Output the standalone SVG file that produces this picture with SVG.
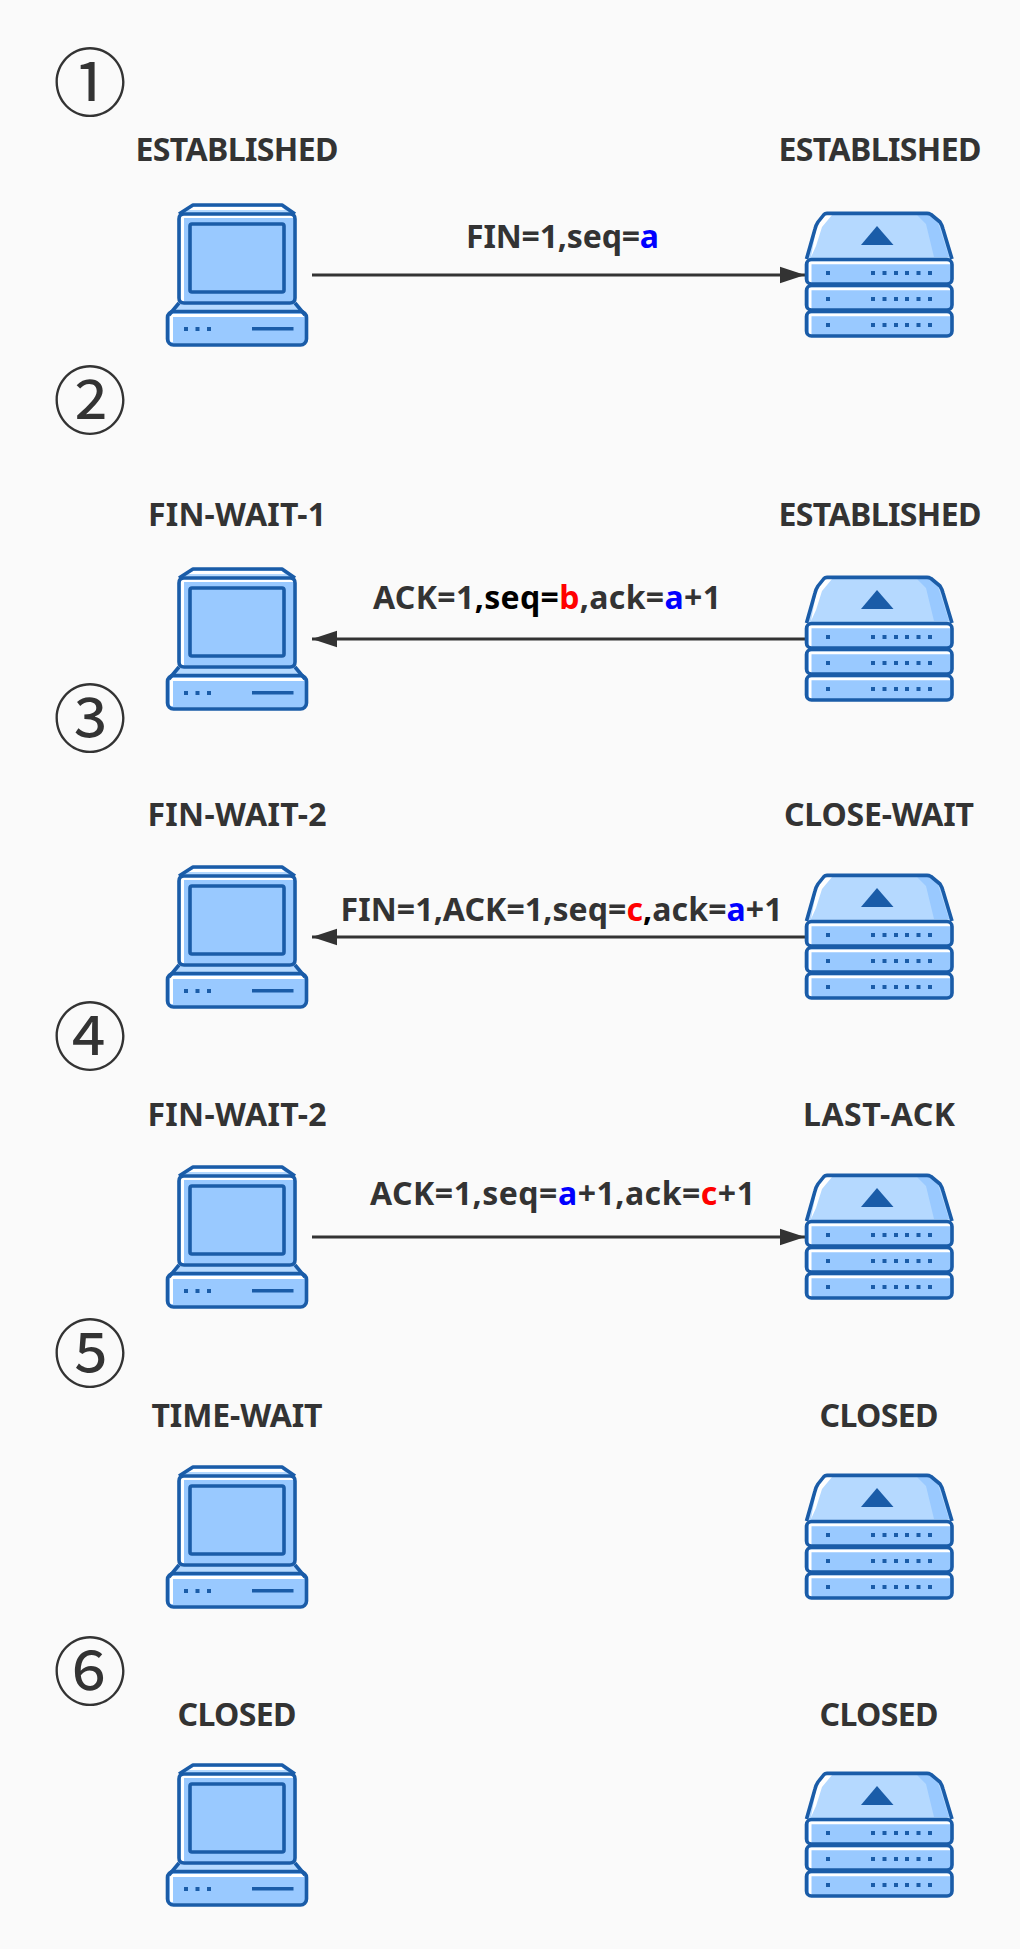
<svg xmlns="http://www.w3.org/2000/svg" width="1020" height="1949" viewBox="0 0 1020 1949">
<style>
text{font-family:"Noto Sans","Noto Sans CJK SC",sans-serif;fill:#333333}
.l{font-size:32px;font-weight:700;text-anchor:middle}
.n{font-size:74px;font-family:"Noto Sans CJK SC","DejaVu Sans",sans-serif;text-anchor:middle}
.b{fill:#0000ff}.r{fill:#ff0000}.k{fill:#000000}
.o{fill:none;stroke:#1a5ca8;stroke-width:3.6;stroke-linejoin:round}
.i{fill:#99c9ff}.u{fill:#b5d9ff}.h{fill:#fff}.d{fill:#1a5ca8}
.c{stroke:#333333;stroke-width:3;fill:none}
</style>
<defs>
<marker id="ah" markerUnits="userSpaceOnUse" markerWidth="25" markerHeight="18" refX="25" refY="9" orient="auto-start-reverse"><path d="M0 0.7L25 9L0 17.300Z" fill="#333333"/></marker>
<g id="pc">
<path class="u" d="M193 205H282L295 214V303L307 317V340Q307 345 301 345H173Q167 345 167 340V317L179 303V214Z"/>
<path class="i" d="M181 216H293V301H181Z"/>
<path class="h" d="M181 215H293V218H184V301H181Z"/>
<path class="i" d="M169 313H305V343H169Z"/>
<path class="h" d="M170 314H304V317H173V342H170Z"/>
<path class="h" d="M193 207H282L285 210H188Z"/>
<path class="o" d="M179 219Q179 214 184 214H290Q295 214 295 219V298Q295 303 290 303H184Q179 303 179 298Z"/>
<rect class="i" x="190" y="224" width="94" height="68" rx="2"/>
<rect class="o" x="190" y="224" width="94" height="68" rx="2"/>
<path class="o" d="M179 214L193 205H282L295 214"/>
<path class="o" d="M179 303L169 315M295 303L305 315"/>
<rect class="o" x="167.500" y="311.500" width="139" height="33.500" rx="6"/>
<rect class="d" x="184" y="327" width="4" height="4"/><rect class="d" x="195.500" y="327" width="4" height="4"/><rect class="d" x="207" y="327" width="4" height="4"/>
<rect class="d" x="252" y="327" width="41.500" height="3.500"/>
</g>
<g id="srv">
<path class="u" d="M824 213.500H930L940 222Q942 225 943 229L952 259H807L815 229Q816 225 818 222Z"/>
<path d="M917 215H929L938 223L949 257H934L926 224Z" class="i"/>
<path class="h" d="M823 215H832L822 227L816 246L811 257L816 230Q817 224 823 215Z"/>
<path class="o" d="M806.500 259L815 229Q816 225 818 222L824 214.500Q825 213.400 827 213.400H927Q929 213.400 931 214.500L940 222Q942 225 943 229L952 259"/>
<path class="d" d="M877 226L893.500 245H861Z"/>
<g id="srvrow">
<rect class="i" x="807" y="260" width="145" height="24" rx="5"/>
<path class="h" d="M809 261.200H950V264.200H811.500V283H809Z"/>
<rect class="o" x="806.500" y="259.500" width="145.500" height="24.500" rx="5"/>
<g class="d"><rect x="826" y="271" width="4" height="4"/><rect x="871" y="271" width="4" height="4"/><rect x="882.500" y="271" width="4" height="4"/><rect x="894" y="271" width="4" height="4"/><rect x="905" y="271" width="4" height="4"/><rect x="916.500" y="271" width="4" height="4"/><rect x="928" y="271" width="4" height="4"/></g>
</g>
<use href="#srvrow" y="26"/>
<use href="#srvrow" y="52"/>
</g>
</defs>
<rect width="1020" height="1949" fill="#fafafa"/>
<g id="connectors">
<path class="c" d="M312 275H805" marker-end="url(#ah)"/>
<path class="c" d="M805 639H312" marker-end="url(#ah)"/>
<path class="c" d="M805 937H312" marker-end="url(#ah)"/>
<path class="c" d="M312 1237H805" marker-end="url(#ah)"/>
</g>
<g id="step1"><text class="n" x="90" y="110">①</text></g>
<g id="step2"><text class="n" x="90" y="428">②</text></g>
<g id="step3"><text class="n" x="90" y="746">③</text></g>
<g id="step4"><text class="n" x="90" y="1064">④</text></g>
<g id="step5"><text class="n" x="90" y="1381">⑤</text></g>
<g id="step6"><text class="n" x="90" y="1699">⑥</text></g>
<g id="client1"><use href="#pc"/><text class="l" x="237" y="160.500" textLength="203">ESTABLISHED</text></g>
<g id="server1"><use href="#srv"/><text class="l" x="880" y="160.500" textLength="203">ESTABLISHED</text></g>
<g id="client2"><use href="#pc" y="364"/><text class="l" x="237" y="525.500" textLength="178">FIN-WAIT-1</text></g>
<g id="server2"><use href="#srv" y="364"/><text class="l" x="880" y="525.500" textLength="203">ESTABLISHED</text></g>
<g id="client3"><use href="#pc" y="662"/><text class="l" x="237" y="825.500" textLength="179">FIN-WAIT-2</text></g>
<g id="server3"><use href="#srv" y="662"/><text class="l" x="879" y="825.500" textLength="190">CLOSE-WAIT</text></g>
<g id="client4"><use href="#pc" y="962"/><text class="l" x="237" y="1125.500" textLength="179">FIN-WAIT-2</text></g>
<g id="server4"><use href="#srv" y="962"/><text class="l" x="879" y="1125.500" textLength="152">LAST-ACK</text></g>
<g id="client5"><use href="#pc" y="1262"/><text class="l" x="237" y="1426.500" textLength="171">TIME-WAIT</text></g>
<g id="server5"><use href="#srv" y="1262"/><text class="l" x="879" y="1426.500" textLength="119">CLOSED</text></g>
<g id="client6"><use href="#pc" y="1560"/><text class="l" x="237" y="1725.500" textLength="119">CLOSED</text></g>
<g id="server6"><use href="#srv" y="1560"/><text class="l" x="879" y="1725.500" textLength="119">CLOSED</text></g>
<g id="labels">
<text class="l" x="562.500" y="247.500" textLength="193">FIN=1,seq=<tspan class="b">a</tspan></text>
<text class="l" x="547" y="608.500" textLength="348">ACK=1<tspan class="k">,seq=</tspan><tspan class="r">b</tspan>,ack=<tspan class="b">a</tspan>+1</text>
<text class="l" x="561.500" y="920.500" textLength="442">FIN=1,ACK=1,seq=<tspan class="r">c</tspan><tspan class="k">,</tspan>ack=<tspan class="b">a</tspan>+1</text>
<text class="l" x="562.500" y="1204.500" textLength="385">ACK=1,seq=<tspan class="b">a</tspan>+1,ack=<tspan class="r">c</tspan>+1</text>
</g>
</svg>
